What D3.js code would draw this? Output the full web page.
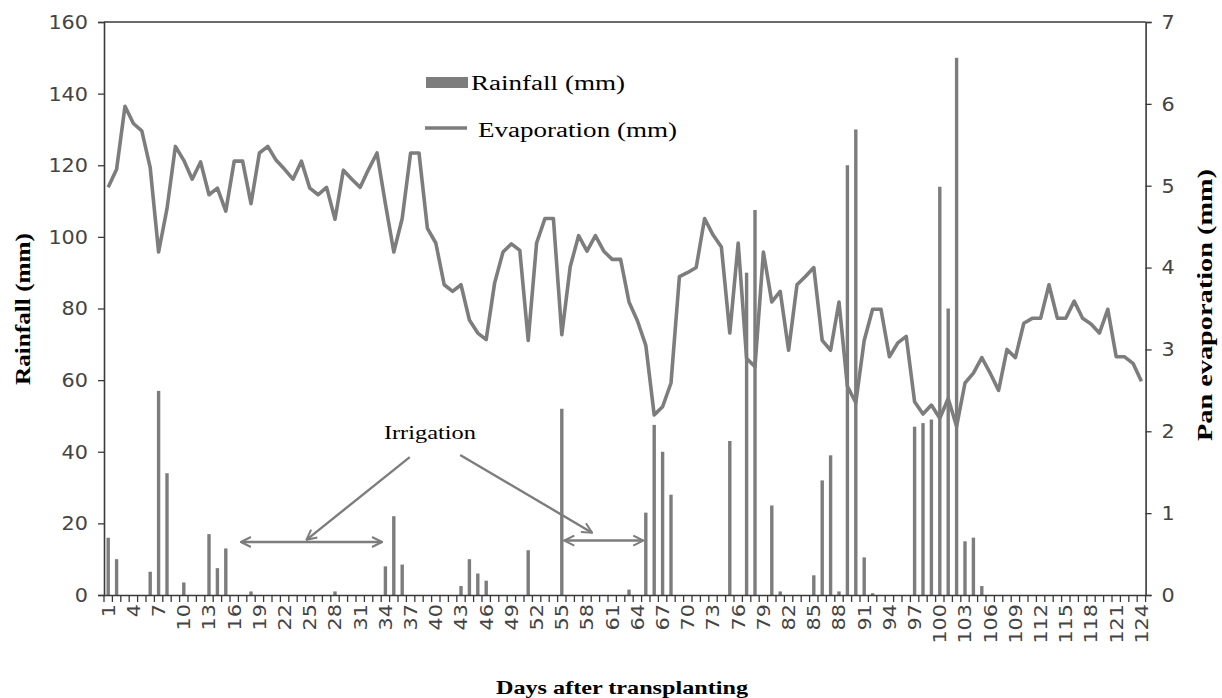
<!DOCTYPE html>
<html>
<head>
<meta charset="utf-8">
<script src="https://cdn.jsdelivr.net/npm/d3@7"></script>
<style>
  body { margin: 0; background: #fff; }
  svg { display: block; }
</style>
</head>
<body>
<svg id="chart" width="1222" height="698"></svg>
<script>
// days after transplanting
var days = d3.range(1, 125)

var rainfall = [
  16, 10, 0, 0, 0, 6.5, 57, 34, 0, 3.5,
  0, 0, 17, 7.5, 13, 0, 0, 1, 0, 0,
  0, 0, 0, 0, 0, 0, 0, 1, 0, 0,
  0, 0, 0, 8, 22, 8.5, 0, 0, 0, 0,
  0, 0, 2.5, 10, 6, 4, 0, 0, 0, 0,
  12.5, 0, 0, 0, 52, 0, 0, 0, 0, 0,
  0, 0, 1.5, 0, 23, 47.5, 40, 28, 0, 0,
  0, 0, 0, 0, 43, 0, 90, 107.5, 0, 25,
  1, 0, 0, 0, 5.5, 32, 39, 1, 120, 130,
  10.5, 0.5, 0, 0, 0, 0, 47, 48, 49, 114,
  80, 150, 15, 16, 2.5, 0, 0, 0, 0, 0,
  0, 0, 0, 0, 0, 0, 0, 0, 0, 0,
  0, 0, 0, 0
]

var evaporation = [
  4.98, 5.2, 5.97, 5.76, 5.67, 5.22, 4.19, 4.72, 5.48, 5.31,
  5.08, 5.29, 4.89, 4.97, 4.69, 5.3, 5.3, 4.78, 5.4, 5.48,
  5.31, 5.2, 5.08, 5.3, 4.97, 4.89, 4.98, 4.59, 5.19, 5.08,
  4.98, 5.2, 5.4, 4.78, 4.19, 4.6, 5.4, 5.4, 4.48, 4.3,
  3.79, 3.71, 3.79, 3.36, 3.2, 3.12, 3.81, 4.19, 4.29, 4.21,
  3.11, 4.3, 4.6, 4.6, 3.18, 4.01, 4.39, 4.2, 4.39, 4.2,
  4.1, 4.1, 3.58, 3.35, 3.05, 2.2, 2.3, 2.59, 3.89, 3.94,
  4.0, 4.6, 4.4, 4.25, 3.2, 4.3, 2.89, 2.79, 4.19, 3.58,
  3.71, 2.99, 3.79, 3.89, 4.0, 3.11, 2.99, 3.58, 2.55, 2.35,
  3.11, 3.49, 3.49, 2.91, 3.08, 3.16, 2.36, 2.21, 2.32, 2.16,
  2.4, 2.06, 2.59, 2.71, 2.9, 2.71, 2.5, 3.0, 2.9, 3.32,
  3.38, 3.38, 3.79, 3.38, 3.38, 3.59, 3.38, 3.31, 3.2, 3.49,
  2.91, 2.91, 2.83, 2.61
]

var rainTicks = [0, 20, 40, 60, 80, 100, 120, 140, 160]
var evapTicks = [0, 1, 2, 3, 4, 5, 6, 7]
var dayLabels = days.filter(function(d){ return (d - 1) % 3 == 0 })

// irrigation annotation, in data units (day, rainfall)
var irrigationSpans = [[16.8, 33.6, 14.8], [55.3, 64.7, 15.2]]
var irrigationPointers = [[36.9, 38.5, 24.6, 15.4], [42.9, 39.1, 58.6, 17.4]]
var irrigationLabel = [39.3, 43.5]

var grey = "#7d7d7d"
var axisColour = "#3a3a3a"

var svg = d3.select("#chart")

var x = d3.scaleBand()
  .domain(days)
  .range([104, 1145.6])

var yRain = d3.scaleLinear().domain([0, 160]).range([595, 22])
var yEvap = d3.scaleLinear().domain([0, 7]).range([595, 22])

var xMid = function(d){ return x(d) + x.bandwidth() / 2 }
var xDay = d3.scaleLinear().domain([1, 124]).range([xMid(1), xMid(124)])

/*
  Bars and line
*/

svg.append("g")
  .selectAll("rect")
  .data(days.filter(function(d){ return rainfall[d - 1] > 0 }))
  .enter()
  .append("rect")
  .attr("x", function(d){ return xMid(d) - 1.7 })
  .attr("width", 3.4)
  .attr("y", function(d){ return yRain(rainfall[d - 1]) })
  .attr("height", function(d){ return yRain(0) - yRain(rainfall[d - 1]) })
  .attr("fill", grey)

var evapLine = d3.line()
  .x(function(d){ return xMid(d) })
  .y(function(d){ return yEvap(evaporation[d - 1]) })

svg.append("path")
  .datum(days)
  .attr("d", evapLine)
  .attr("fill", "none")
  .attr("stroke", grey)
  .attr("stroke-width", 3.6)
  .attr("stroke-linejoin", "round")

/*
  Axes
*/

var leftAxis = svg.append("g")
  .attr("transform", "translate(104,0)")
  .call(d3.axisLeft(yRain).tickValues(rainTicks).tickFormat(d3.format("d")).tickSize(6).tickPadding(10))

var rightAxis = svg.append("g")
  .attr("transform", "translate(1145.6,0)")
  .call(d3.axisRight(yEvap).tickValues(evapTicks).tickFormat(d3.format("d")).tickSize(6).tickPadding(10))

var bottomAxis = svg.append("g")
  .attr("transform", "translate(0,595)")
  .call(d3.axisBottom(x).tickValues(dayLabels).tickSize(0).tickPadding(0))

bottomAxis.selectAll("text")
  .attr("transform", "rotate(-90)")
  .attr("x", -9)
  .attr("y", 0)
  .attr("dy", "0.36em")
  .attr("text-anchor", "end")
  .style("font-size", "18px")

// category ticks sit between the days
bottomAxis.selectAll(".boundary")
  .data(d3.range(0, 125))
  .enter()
  .append("line")
  .attr("class", "boundary")
  .attr("x1", function(i){ return 104 + i * x.step() })
  .attr("x2", function(i){ return 104 + i * x.step() })
  .attr("y1", 0)
  .attr("y2", 7)
  .attr("stroke", axisColour)
  .attr("stroke-width", 1.3)

leftAxis.selectAll("text").style("font-size", "20px")
rightAxis.selectAll("text").style("font-size", "20px")

svg.selectAll(".tick text")
  .style("font-family", "'DejaVu Sans', Verdana, sans-serif")
  .attr("fill", "#444")
  .attr("textLength", function(d){ return String(d).length * 13.2 })
  .attr("lengthAdjust", "spacingAndGlyphs")

svg.selectAll(".domain")
  .attr("stroke", axisColour)
  .attr("stroke-width", 1.6)
svg.selectAll(".tick line")
  .attr("stroke", axisColour)
  .attr("stroke-width", 1.3)

svg.append("line")
  .attr("x1", 104).attr("x2", 1145.6)
  .attr("y1", 22).attr("y2", 22)
  .attr("stroke", axisColour)
  .attr("stroke-width", 1.6)

/*
  Titles
*/

var serif = "'Liberation Serif', 'Times New Roman', serif"

svg.append("text")
  .attr("transform", "translate(30,309) rotate(-90)")
  .attr("text-anchor", "middle")
  .attr("font-family", serif)
  .attr("font-weight", "bold")
  .attr("font-size", 22)
  .attr("textLength", 152)
  .attr("lengthAdjust", "spacingAndGlyphs")
  .text("Rainfall (mm)")

svg.append("text")
  .attr("transform", "translate(1212,305) rotate(-90)")
  .attr("text-anchor", "middle")
  .attr("font-family", serif)
  .attr("font-weight", "bold")
  .attr("font-size", 22)
  .attr("textLength", 272)
  .attr("lengthAdjust", "spacingAndGlyphs")
  .text("Pan evaporation (mm)")

svg.append("text")
  .attr("x", 622)
  .attr("y", 694)
  .attr("text-anchor", "middle")
  .attr("font-family", serif)
  .attr("font-weight", "bold")
  .attr("font-size", 19)
  .attr("textLength", 252)
  .attr("lengthAdjust", "spacingAndGlyphs")
  .text("Days after transplanting")

/*
  Legend
*/

var legend = svg.append("g")

legend.append("rect")
  .attr("x", 426).attr("y", 77)
  .attr("width", 42).attr("height", 11)
  .attr("fill", grey)

legend.append("text")
  .attr("x", 471).attr("y", 90)
  .attr("font-family", serif)
  .attr("font-size", 20)
  .attr("textLength", 154)
  .attr("lengthAdjust", "spacingAndGlyphs")
  .text("Rainfall (mm)")

legend.append("line")
  .attr("x1", 425).attr("x2", 467)
  .attr("y1", 128).attr("y2", 128)
  .attr("stroke", grey)
  .attr("stroke-width", 3.4)

legend.append("text")
  .attr("x", 478).attr("y", 137)
  .attr("font-family", serif)
  .attr("font-size", 20)
  .attr("textLength", 199)
  .attr("lengthAdjust", "spacingAndGlyphs")
  .text("Evaporation (mm)")

/*
  Irrigation annotation
*/

var defs = svg.append("defs")
defs.append("marker")
  .attr("id", "chevron")
  .attr("viewBox", "0 0 12 12")
  .attr("refX", 11).attr("refY", 6)
  .attr("markerWidth", 12).attr("markerHeight", 12)
  .attr("markerUnits", "userSpaceOnUse")
  .attr("orient", "auto-start-reverse")
  .append("path")
  .attr("d", "M1,1 L11,6 L1,11")
  .attr("fill", "none")
  .attr("stroke", grey)
  .attr("stroke-width", 2)

var notes = svg.append("g")
  .attr("stroke", grey)
  .attr("stroke-width", 2.4)
  .attr("fill", "none")

notes.selectAll(".span")
  .data(irrigationSpans)
  .enter()
  .append("line")
  .attr("class", "span")
  .attr("x1", function(d){ return xDay(d[0]) })
  .attr("x2", function(d){ return xDay(d[1]) })
  .attr("y1", function(d){ return yRain(d[2]) })
  .attr("y2", function(d){ return yRain(d[2]) })
  .attr("marker-start", "url(#chevron)")
  .attr("marker-end", "url(#chevron)")

notes.selectAll(".pointer")
  .data(irrigationPointers)
  .enter()
  .append("line")
  .attr("class", "pointer")
  .attr("x1", function(d){ return xDay(d[0]) })
  .attr("y1", function(d){ return yRain(d[1]) })
  .attr("x2", function(d){ return xDay(d[2]) })
  .attr("y2", function(d){ return yRain(d[3]) })
  .attr("marker-end", "url(#chevron)")

svg.append("text")
  .attr("x", xDay(irrigationLabel[0]))
  .attr("y", yRain(irrigationLabel[1]))
  .attr("text-anchor", "middle")
  .attr("font-family", serif)
  .attr("font-size", 19)
  .attr("textLength", 92)
  .attr("lengthAdjust", "spacingAndGlyphs")
  .text("Irrigation")
</script>
</body>
</html>
